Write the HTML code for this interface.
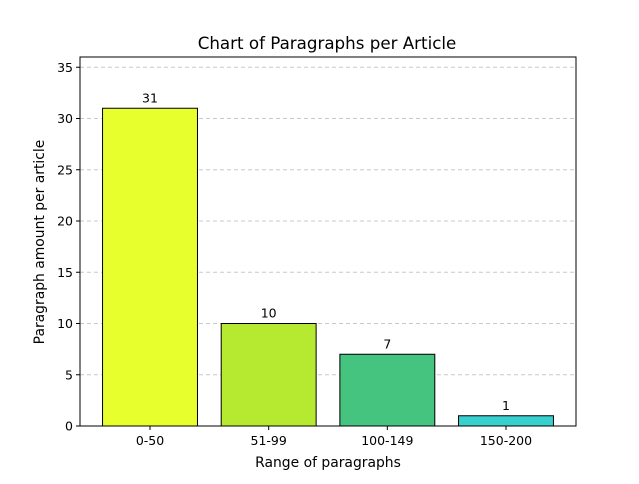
<!DOCTYPE html>
<html><head><meta charset="utf-8"><style>
body{margin:0;background:#fff;}
svg{font-family:"DejaVu Sans","Liberation Sans",sans-serif;}
</style></head><body>
<svg id="chart" width="639" height="479">
<rect width="639" height="479" fill="#fff"/>
<text x="327" y="49" text-anchor="middle" font-size="16.7">Chart of Paragraphs per Article</text>
<text x="328" y="467" text-anchor="middle" font-size="13.9">Range of paragraphs</text>
<text transform="translate(44,242) rotate(-90)" text-anchor="middle" font-size="13.9">Paragraph amount per article</text>
<g id="grid"></g><g id="bars"></g><g id="ticks"></g>
<rect x="80" y="57" width="496" height="369" fill="none" stroke="#000" stroke-width="1"/>
</svg>
<script>
const categories=["0-50","51-99","100-149","150-200"];
const values=[31,10,7,1];
const colors=["#e8ff2e","#b6ea31","#44c47f","#38cfcf"];
const yTicks=[0,5,10,15,20,25,30,35];
const L=80,R=576,T=57,B=426,yMax=36,xMin=-0.59,xMax=3.59;
const ys=v=>B-(v/yMax)*(B-T);
const xs=v=>L+(v-xMin)/(xMax-xMin)*(R-L);
const NS="http://www.w3.org/2000/svg";
function mk(tag,attrs,parent){const e=document.createElementNS(NS,tag);for(const k in attrs)e.setAttribute(k,attrs[k]);document.getElementById(parent).appendChild(e);return e;}
yTicks.forEach(t=>{
 const y=ys(t);
 if(t>0){const g=mk("line",{x1:L,x2:R,y1:y,y2:y,stroke:"#c8c8c8","stroke-dasharray":"4,3"},"grid");
 
 }
 const tk=mk("line",{x1:L-4,x2:L,y1:y,y2:y,stroke:"#000"},"ticks");
 
 
 const lb=mk("text",{x:L-7,y:y+4.5,"text-anchor":"end","font-size":"12.5"},"ticks");lb.textContent=t;
 
 
});
categories.forEach((c,i)=>{
 const x0=xs(i-0.4),x1=xs(i+0.4),y=ys(values[i]);
 const b=mk("rect",{x:x0,y:y,width:x1-x0,height:B-y,fill:colors[i],stroke:"#000","stroke-width":"1"},"bars");
 
 
 const v=mk("text",{x:xs(i),y:y-6,"text-anchor":"middle","font-size":"12.5"},"bars");v.textContent=values[i];
 
 
 const tk=mk("line",{x1:xs(i),x2:xs(i),y1:B,y2:B+4,stroke:"#000"},"ticks");
 
 
 const lb=mk("text",{x:xs(i),y:B+19,"text-anchor":"middle","font-size":"12.5"},"ticks");lb.textContent=c;
 
 
});
</script>
</body></html>
